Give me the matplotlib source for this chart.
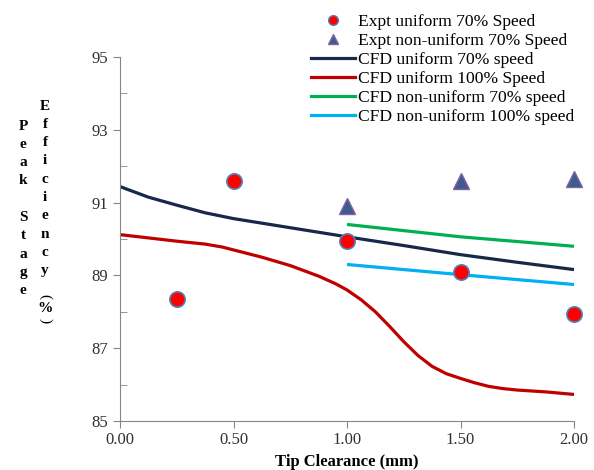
import matplotlib.pyplot as plt
from matplotlib.lines import Line2D
from matplotlib.ticker import FormatStrFormatter

plt.rcParams['font.family'] = ['Liberation Serif', 'DejaVu Serif']

# experimental points
expt_u_x = [0.25, 0.5, 1.0, 1.5, 2.0]
expt_u_y = [88.35, 91.6, 89.95, 89.1, 87.95]
expt_nu_x = [1.0, 1.5, 2.0]
expt_nu_y = [90.9, 91.6, 91.66]

# CFD curves
cfd_u70_x = [0.0, 0.125, 0.25, 0.375, 0.5, 0.75, 1.0, 1.25, 1.5, 1.75, 2.0]
cfd_u70_y = [91.44, 91.15, 90.93, 90.72, 90.56, 90.31, 90.06, 89.82, 89.57, 89.36, 89.16]
cfd_u100_x = [0.0, 0.125, 0.25, 0.375, 0.45, 0.5, 0.625, 0.75, 0.875, 0.95, 1.0, 1.0625, 1.125, 1.1875,
              1.25, 1.3125, 1.375, 1.4375, 1.5, 1.5625, 1.625, 1.6875, 1.75, 1.875, 2.0]
cfd_u100_y = [90.12, 90.03, 89.94, 89.86, 89.78, 89.7, 89.5, 89.27, 88.98, 88.77, 88.6, 88.33, 88.0, 87.6,
              87.18, 86.8, 86.5, 86.3, 86.17, 86.05, 85.95, 85.89, 85.85, 85.8, 85.73]
cfd_nu70_x = [1.0, 1.5, 2.0]
cfd_nu70_y = [90.4, 90.06, 89.8]
cfd_nu100_x = [1.0, 1.5, 2.0]
cfd_nu100_y = [89.3, 89.02, 88.75]

navy = '#17284A'
red = '#C00000'
green = '#00B050'
cyan = '#00B0F0'

fig = plt.figure(figsize=(5.94, 4.70), dpi=100)
ax = fig.add_axes([120/594, 49/470, 454/594, 364/470])

ax.plot(cfd_u70_x, cfd_u70_y, color=navy, lw=2.3, solid_capstyle='butt', solid_joinstyle='round')
ax.plot(cfd_u100_x, cfd_u100_y, color=red, lw=2.3, solid_capstyle='butt', solid_joinstyle='round')
ax.plot(cfd_nu70_x, cfd_nu70_y, color=green, lw=2.3, solid_capstyle='butt')
ax.plot(cfd_nu100_x, cfd_nu100_y, color=cyan, lw=2.3, solid_capstyle='butt')
ax.plot(expt_u_x, expt_u_y, 'o', ms=11, mfc='#FF0000', mec='#4F81BD', mew=1.2, clip_on=False)
ax.plot(expt_nu_x, expt_nu_y, '^', ms=12, mfc='#3F5A8C', mec='#8064A2', mew=1.0, clip_on=False)

ax.set_xlim(0, 2)
ax.set_ylim(85, 95)
ax.set_xticks([0, 0.5, 1.0, 1.5, 2.0])
ax.xaxis.set_major_formatter(FormatStrFormatter('%.2f'))
ax.set_yticks(range(85, 96, 2))
ax.set_yticks(range(86, 95, 2), minor=True)
for s in ['top', 'right']:
    ax.spines[s].set_visible(False)
for s in ['left', 'bottom']:
    ax.spines[s].set_color('#868686')
ax.tick_params(which='major', direction='out', length=5, color='#868686', labelsize=12, labelcolor='#303030')
ax.tick_params(which='minor', direction='in', length=5, color='#868686')
ax.tick_params(axis='x', pad=3)

ax.set_xlabel('Tip Clearance (mm)', fontsize=12, fontweight='bold', labelpad=4)

# stacked y label letters
def stack(letters, x, y0, step=18.3):
    for i, ch in enumerate(letters):
        fig.text(x/594, 1 - (y0 + i*step)/470, ch, ha='center', va='center',
                 fontsize=11, fontweight='bold')

stack('Peak Stage', 23, 126)
stack('Efficiency', 45, 106)
fig.text(45/594, 1 - 297/470, '(', rotation=-90, ha='center', va='center', fontsize=11)
fig.text(45/594, 1 - 309/470, '%', ha='center', va='center', fontsize=11, fontweight='bold')
fig.text(45/594, 1 - 321/470, ')', rotation=-90, ha='center', va='center', fontsize=11)

handles = [
    Line2D([], [], ls='none', marker='o', ms=7, mfc='#FF0000', mec='#4F81BD'),
    Line2D([], [], ls='none', marker='^', ms=7, mfc='#3F5A8C', mec='#8064A2'),
    Line2D([], [], color=navy, lw=2.3),
    Line2D([], [], color=red, lw=2.3),
    Line2D([], [], color=green, lw=2.3),
    Line2D([], [], color=cyan, lw=2.3),
]
labels = ['Expt uniform 70% Speed', 'Expt non-uniform 70% Speed', 'CFD uniform 70% speed',
          'CFD uniform 100% Speed', 'CFD non-uniform 70% speed', 'CFD non-uniform 100% speed']
fig.legend(handles, labels, loc='upper left', bbox_to_anchor=(311/594, 1 - 14/470),
           frameon=False, fontsize=12.6, handlelength=2.5, handletextpad=0.2,
           labelspacing=0.15, borderaxespad=0, borderpad=0)

fig.savefig('out.png', dpi=100)
